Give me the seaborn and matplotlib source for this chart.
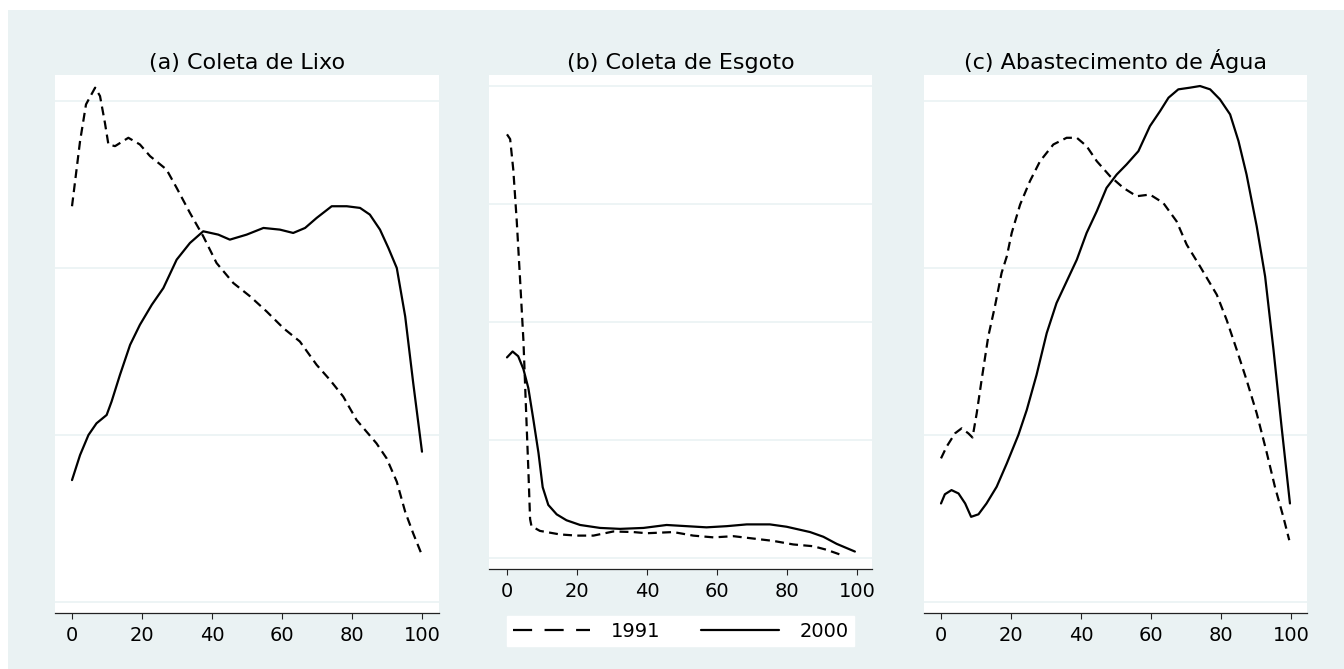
import numpy as np
import pandas as pd
import seaborn as sns
import matplotlib.pyplot as plt
from matplotlib.lines import Line2D
from matplotlib.patches import Rectangle

# density curves (grid units, gridlines at 0, 1, 2, ...)
lixo_x_1991 = [0, 2.3, 4, 6.6, 8, 9.4, 10.4, 12.3, 16.1, 19.4, 22.3, 27, 29.9, 33.7, 37.5, 41.3,
               46.1, 50.9, 55.6, 60.4, 65.1, 69.9, 73.7, 77.5, 81.3, 87, 89.9, 92.8, 95.2, 97.5, 100]
lixo_y_1991 = [2.37, 2.76, 2.98, 3.08, 3.03, 2.87, 2.74, 2.73, 2.78, 2.74, 2.67, 2.59, 2.48, 2.33, 2.19, 2.03,
               1.91, 1.83, 1.74, 1.64, 1.56, 1.42, 1.33, 1.23, 1.09, 0.95, 0.86, 0.72, 0.54, 0.41, 0.28]
lixo_x_2000 = [0, 2.3, 4.7, 7.0, 9.9, 11.3, 13.7, 16.6, 19.4, 22.8, 26.1, 29.9, 33.7, 37.5, 41.8, 45.1,
               49.9, 54.7, 59.4, 63.2, 66.6, 69.9, 74.2, 78.5, 82.3, 85.1, 88, 90.4, 92.8, 95.2, 97.5, 100]
lixo_y_2000 = [0.73, 0.88, 1.0, 1.07, 1.12, 1.20, 1.36, 1.54, 1.66, 1.78, 1.88, 2.05, 2.15, 2.22, 2.20, 2.17,
               2.20, 2.24, 2.23, 2.21, 2.24, 2.30, 2.37, 2.37, 2.36, 2.32, 2.23, 2.12, 2.0, 1.71, 1.31, 0.90]

esgoto_x_1991 = [0, 0.9, 1.8, 2.8, 3.7, 4.7, 5.4, 6.1, 6.6, 7.0, 9.4, 15.1, 19.9, 24.7, 30.4, 36.1, 39.9,
                 47.5, 53.2, 59, 64.7, 70.4, 76.1, 81.8, 87.5, 91.3, 96.1]
esgoto_y_1991 = [3.59, 3.55, 3.29, 2.85, 2.38, 1.84, 1.29, 0.75, 0.33, 0.27, 0.23, 0.20, 0.19, 0.19, 0.225, 0.22, 0.21,
                 0.22, 0.19, 0.175, 0.185, 0.165, 0.145, 0.115, 0.10, 0.07, 0.02]
esgoto_x_2000 = [0, 1.6, 3.2, 4.7, 6.1, 7.5, 9.0, 10.2, 11.8, 14.2, 17.0, 20.9, 26.6, 32.3, 39, 45.6, 51.3,
                 57, 62.8, 68.5, 75.1, 79.9, 86.6, 90.4, 94.2, 99.4]
esgoto_y_2000 = [1.70, 1.75, 1.71, 1.60, 1.44, 1.18, 0.89, 0.60, 0.45, 0.37, 0.32, 0.28, 0.255, 0.247, 0.255, 0.28, 0.27,
                 0.26, 0.27, 0.285, 0.285, 0.265, 0.22, 0.18, 0.12, 0.055]

agua_x_1991 = [0, 1.6, 4.0, 5.9, 7.8, 9.0, 10.2, 11.6, 13.5, 15.4, 17.3, 18.8, 20.2, 22.6, 25.4, 28.3, 32.1,
               35.9, 38.8, 41.6, 44.5, 48.3, 52.1, 55.9, 59.7, 63.5, 67.3, 70.2, 74, 78.8, 81.6, 84.5, 87.3,
               90.2, 93, 95.4, 97.8, 99.5]
agua_y_1991 = [0.86, 0.93, 1.01, 1.04, 1.01, 0.985, 1.13, 1.33, 1.59, 1.77, 1.97, 2.07, 2.21, 2.38, 2.52, 2.64, 2.74,
               2.78, 2.78, 2.73, 2.64, 2.55, 2.48, 2.43, 2.44, 2.39, 2.28, 2.14, 2.01, 1.84, 1.69, 1.51, 1.33,
               1.13, 0.90, 0.69, 0.51, 0.37]
agua_x_2000 = [0, 1.1, 3.0, 5.0, 6.9, 8.6, 10.7, 13, 15.9, 18.8, 22.1, 24.5, 27.3, 30.2, 33, 35.9, 38.8, 41.6,
               44.5, 47.3, 50.2, 53, 56.4, 59.7, 62.6, 65, 67.8, 71.1, 74, 76.9, 79.7, 82.6, 85, 87.3, 90.2,
               92.6, 95, 97.3, 99.7]
agua_y_2000 = [0.59, 0.645, 0.67, 0.65, 0.59, 0.51, 0.525, 0.59, 0.69, 0.83, 1.0, 1.15, 1.36, 1.61, 1.79, 1.92, 2.05, 2.21,
               2.34, 2.48, 2.56, 2.62, 2.70, 2.85, 2.94, 3.02, 3.07, 3.08, 3.09, 3.07, 3.01, 2.92, 2.76, 2.56, 2.25,
               1.95, 1.51, 1.05, 0.59]

titles = ['(a) Coleta de Lixo', '(b) Coleta de Esgoto', '(c) Abastecimento de Água']
years = ['1991', '2000']

BG = '#EAF2F3'
DASH = (0, (4.0, 2.4))

sns.set_style('white')
plt.rcParams['font.family'] = ['DejaVu Sans']
plt.rcParams['text.color'] = 'black'
plt.rcParams['xtick.color'] = 'black'
plt.rcParams['axes.titlecolor'] = 'black'

fig = plt.figure(figsize=(13.44, 6.69), dpi=100)
fig.patch.set_facecolor('white')
fig.add_artist(Rectangle((8 / 1344, 0), 1, (669 - 10) / 669, transform=fig.transFigure,
                         facecolor=BG, edgecolor='none', zorder=-1))

ax_a = fig.add_axes([55 / 1344, 1 - 613 / 669, 384 / 1344, 538 / 669])
ax_b = fig.add_axes([489 / 1344, 1 - 569 / 669, 383 / 1344, 494 / 669])
ax_c = fig.add_axes([924 / 1344, 1 - 613 / 669, 383 / 1344, 538 / 669])

panels = [
    (ax_a, lixo_x_1991, lixo_y_1991, lixo_x_2000, lixo_y_2000, (-4.86, 104.86), (-0.066, 3.156), 4),
    (ax_b, esgoto_x_1991, esgoto_y_1991, esgoto_x_2000, esgoto_y_2000, (-5.14, 104.29), (-0.093, 4.093), 5),
    (ax_c, agua_x_1991, agua_y_1991, agua_x_2000, agua_y_2000, (-4.86, 104.57), (-0.066, 3.156), 4),
]

for (ax, x91, y91, x00, y00, xl, yl, ngrid), title in zip(panels, titles):
    ax.set_facecolor('white')
    for g in range(ngrid):
        ax.axhline(g, color=BG, lw=1.2, zorder=0)
    sns.lineplot(x=x91, y=y91, ax=ax, color='black', lw=1.6, linestyle=DASH, legend=False,
                 dash_joinstyle='round', dash_capstyle='butt')
    sns.lineplot(x=x00, y=y00, ax=ax, color='black', lw=1.6, legend=False,
                 solid_joinstyle='round')
    ax.set_xlim(*xl)
    ax.set_ylim(*yl)
    ax.set_xticks([0, 20, 40, 60, 80, 100])
    ax.set_yticks([])
    ax.tick_params(axis='x', direction='out', length=4.5, width=0.8, color='#222222',
                   labelsize=14, labelcolor='black', pad=5, bottom=True)
    for s in ['left', 'right', 'top']:
        ax.spines[s].set_visible(False)
    ax.spines['bottom'].set_color('#222222')
    ax.spines['bottom'].set_linewidth(0.9)
    ax.set_xlabel('')
    ax.set_ylabel('')
    ax.set_title(title, fontsize=16, pad=4.5, color='black')

handles = [Line2D([], [], color='black', lw=1.6, linestyle=(0, (8.6, 5.6))),
           Line2D([], [], color='black', lw=1.6)]
leg = ax_b.legend(handles, years, ncol=2, loc='upper center', bbox_to_anchor=(0.5, -0.075),
                  fontsize=14, frameon=True, fancybox=False, facecolor='white', edgecolor='white',
                  framealpha=1, handlelength=4.0, handletextpad=1.05, columnspacing=2.1,
                  borderpad=0.3)
for t in leg.get_texts():
    t.set_color('black')

fig.savefig('out.png', dpi=100, facecolor=fig.get_facecolor())
